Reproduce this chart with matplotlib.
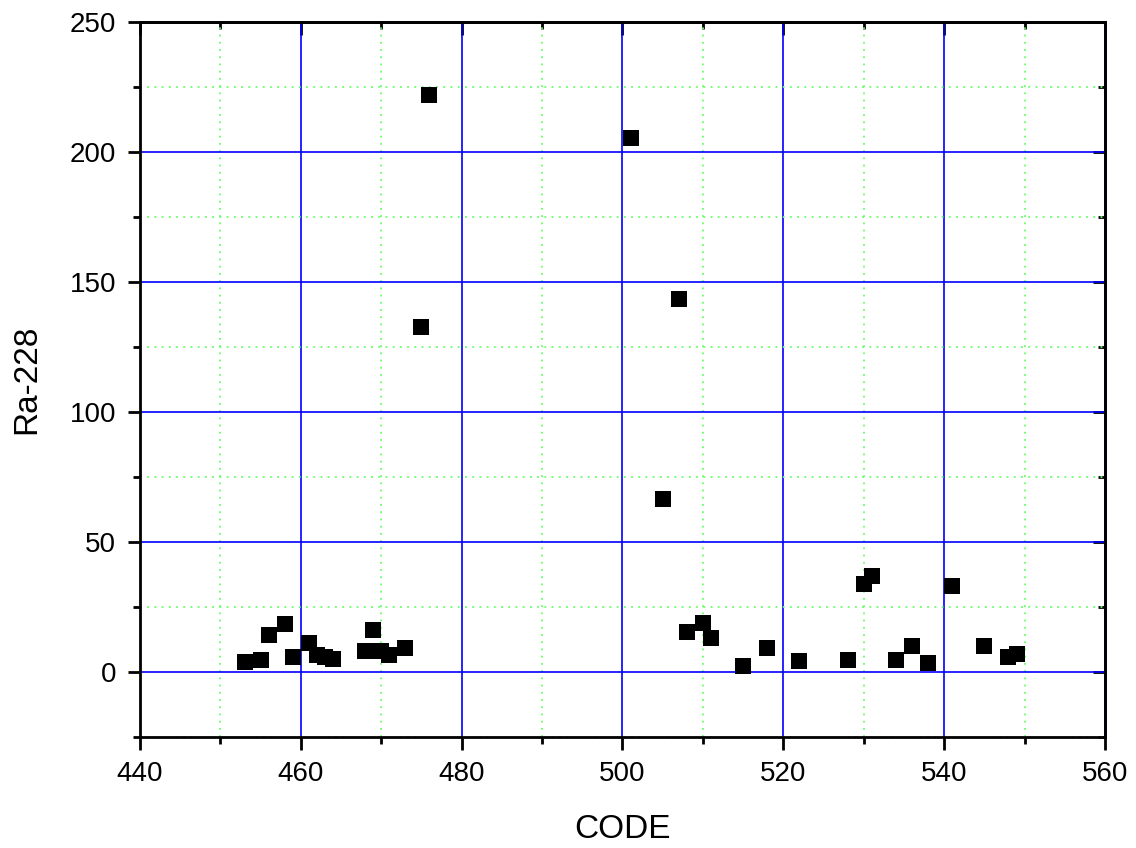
import matplotlib
matplotlib.use("Agg")
from matplotlib import pyplot as plt
from matplotlib.ticker import MultipleLocator

plt.rcParams["font.family"] = ["Liberation Sans", "DejaVu Sans"]

code = [453, 455, 456, 458, 459, 461, 462, 463, 464, 468, 469, 470, 471, 473,
        475, 476, 501, 505, 507, 508, 510, 511, 515, 518, 522, 528, 530, 531,
        534, 536, 538, 541, 545, 548, 549]
ra228 = [3.8, 4.6, 14.2, 18.5, 5.8, 11.2, 6.5, 5.8, 5.0, 8.0, 16.0, 8.0, 6.5, 9.2,
         132.7, 222.0, 205.4, 66.5, 143.6, 15.4, 18.8, 13.0, 2.3, 9.2, 4.2, 4.6, 34.0, 37.0,
         4.6, 10.0, 3.5, 33.0, 10.0, 5.8, 7.0]

fig = plt.figure(figsize=(11.36, 8.48), dpi=100)
ax = fig.add_axes([0.1232, 0.1309, 0.8495, 0.843])

ax.scatter(code, ra228, marker="s", s=125, color="black", zorder=3, linewidths=0)

ax.set_xlim(440, 560)
ax.set_ylim(-25, 250)
ax.xaxis.set_major_locator(MultipleLocator(20))
ax.xaxis.set_minor_locator(MultipleLocator(10))
ax.yaxis.set_major_locator(MultipleLocator(50))
ax.yaxis.set_minor_locator(MultipleLocator(25))

ax.grid(which="major", color="#0000ff", linewidth=1.2, linestyle="-")
ax.grid(which="minor", color="#66ff66", linewidth=1.3, linestyle=(0, (1, 3)))
ax.set_axisbelow(True)

for s in ax.spines.values():
    s.set_linewidth(2.0)

ax.tick_params(which="major", direction="out", length=9, width=2, labelsize=20, pad=8)
ax.tick_params(which="minor", direction="out", length=5, width=2)

# ticks on the opposite sides point inward
sx = ax.secondary_xaxis("top")
sx.xaxis.set_major_locator(MultipleLocator(20))
sx.xaxis.set_minor_locator(MultipleLocator(10))
sx.tick_params(which="major", direction="in", length=9, width=2, labeltop=False)
sx.tick_params(which="minor", direction="in", length=5, width=2)
sx.spines["top"].set_linewidth(2.0)
sy = ax.secondary_yaxis("right")
sy.yaxis.set_major_locator(MultipleLocator(50))
sy.yaxis.set_minor_locator(MultipleLocator(25))
sy.tick_params(which="major", direction="in", length=9, width=2, labelright=False)
sy.tick_params(which="minor", direction="in", length=5, width=2)
sy.spines["right"].set_linewidth(2.0)

ax.set_xlabel("CODE", fontsize=24, labelpad=20)
ax.set_ylabel("Ra-228", fontsize=24, labelpad=20)

fig.savefig("out.png", dpi=100)
